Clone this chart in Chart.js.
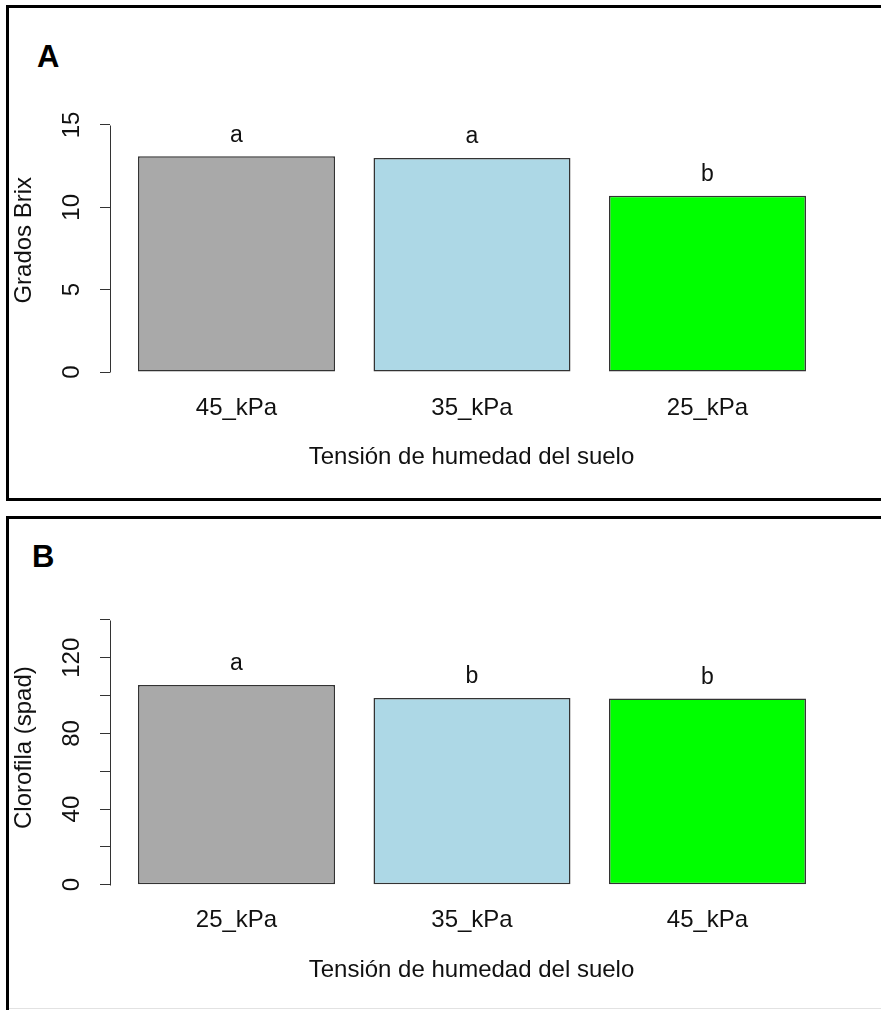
<!DOCTYPE html>
<html>
<head>
<meta charset="utf-8">
<script src="https://cdn.jsdelivr.net/npm/chart.js@4"></script>
<style>
html,body{margin:0;padding:0;background:#fff;overflow:hidden;width:881px;height:1010px;position:relative;}
.panel{position:absolute;border:3px solid #000;box-sizing:border-box;}
#pA{left:6px;top:5px;width:900px;height:496px;}
#pB{left:6px;top:516px;width:900px;height:540px;}
#edge{position:absolute;left:9px;top:1008px;width:872px;height:1px;background:#e2e2e2;}
.tag{position:absolute;font-family:'Liberation Sans',Arial,sans-serif;font-weight:bold;font-size:31px;line-height:31px;color:#000;}
canvas{position:absolute;left:0;}
</style>
</head>
<body>
<div class="panel" id="pA"></div>
<div class="panel" id="pB"></div>
<div id="edge"></div>
<div class="tag" style="left:37px;top:41px;">A</div>
<div class="tag" style="left:32px;top:541px;">B</div>
<canvas id="chartA" width="881" height="500" style="top:0px;width:881px;height:500px;"></canvas>
<canvas id="chartB" width="881" height="505" style="top:505px;width:881px;height:505px;"></canvas>
<script>
const FONT = "'Liberation Sans', Arial, sans-serif";

// ---- Data ----
const categoriesA = ['45_kPa', '35_kPa', '25_kPa'];
const brixValues = [13.1, 13.0, 10.7];
const brixLetters = ['a', 'a', 'b'];
const brixTickValues = [0, 5, 10, 15];
const brixTickLabels = [0, 5, 10, 15];

const categoriesB = ['25_kPa', '35_kPa', '45_kPa'];
const spadValues = [105.6, 98.7, 98.4];
const spadLetters = ['a', 'b', 'b'];
const spadTickValues = [0, 20, 40, 60, 80, 100, 120, 140];
const spadTickLabels = [0, 40, 80, 120];

const barColors = ['#A9A9A9', '#ADD8E6', '#00FF00'];
const xTitle = 'Tensión de humedad del suelo';

// R-style axis line: spans first to last tick only
const axisLinePlugin = {
  id: 'rAxisLine',
  afterDraw(chart) {
    const s = chart.scales.y;
    const ctx = chart.ctx;
    const vals = s.ticks.map(t => t.value);
    const y0 = Math.round(s.getPixelForValue(Math.min(...vals))) + 0.5;
    const y1 = Math.round(s.getPixelForValue(Math.max(...vals))) + 0.5;
    const x = Math.round(s.right) + 0.5;
    ctx.save();
    ctx.strokeStyle = '#333';
    ctx.lineWidth = 1;
    ctx.beginPath();
    ctx.moveTo(x, y0);
    ctx.lineTo(x, y1);
    ctx.stroke();
    ctx.restore();
  }
};

// significance letters above bars
const lettersPlugin = {
  id: 'sigLetters',
  afterDatasetsDraw(chart, args, opts) {
    const meta = chart.getDatasetMeta(0);
    const ctx = chart.ctx;
    ctx.save();
    ctx.font = '23px ' + FONT;
    ctx.fillStyle = '#111';
    ctx.textAlign = 'center';
    ctx.textBaseline = 'middle';
    meta.data.forEach((bar, i) => {
      ctx.fillText(opts.letters[i], bar.x, bar.y - opts.gap);
    });
    ctx.restore();
  }
};

function buildChart(id, cfg) {
  return new Chart(document.getElementById(id), {
    type: 'bar',
    data: {
      datasets: [{
        data: cfg.values.map((v, i) => ({ x: i + 1, y: v })),
        backgroundColor: barColors,
        borderColor: '#333',
        borderWidth: 1.5,
        borderSkipped: false,
        barPercentage: 0.8365,
        categoryPercentage: 1
      }]
    },
    options: {
      responsive: false,
      animation: false,
      devicePixelRatio: 1,
      layout: { padding: { left: 0, right: 48, top: cfg.padTop, bottom: cfg.padBottom } },
      plugins: {
        legend: { display: false },
        tooltip: { enabled: false },
        sigLetters: { letters: cfg.letters, gap: 21 }
      },
      scales: {
        x: {
          type: 'linear',
          offset: false,
          min: 0.4628,
          max: 3.533,
          afterBuildTicks: s => { s.ticks = cfg.categories.map((c, i) => ({ value: i + 1 })); },
          afterFit: s => { s.height = 100; },
          grid: { display: false, drawTicks: false },
          border: { display: false },
          ticks: {
            autoSkip: false, maxRotation: 0, minRotation: 0,
            padding: cfg.xTickPad,
            color: '#111',
            font: { family: FONT, size: 24 },
            callback: v => cfg.categories[Math.round(v) - 1]
          },
          title: {
            display: true, text: xTitle, color: '#111',
            font: { family: FONT, size: 24 },
            padding: { top: 0, bottom: 0 }
          }
        },
        y: {
          type: 'linear',
          min: 0,
          max: cfg.yMax,
          afterBuildTicks: s => { s.ticks = cfg.tickValues.map(v => ({ value: v })); },
          afterFit: s => { s.width = 110; },
          grid: { drawOnChartArea: false, drawTicks: true, tickLength: 10, color: '#333', lineWidth: 1 },
          border: { display: false },
          ticks: {
            autoSkip: false, minRotation: 90, maxRotation: 90,
            crossAlign: 'center',
            padding: cfg.yTickPad,
            color: '#111',
            font: { family: FONT, size: 24 },
            callback: v => cfg.tickLabels.includes(v) ? String(v) : ''
          },
          title: {
            display: true, text: cfg.yTitle, color: '#111',
            font: { family: FONT, size: 24 },
            padding: { top: 9.6, bottom: 0 }
          }
        }
      }
    },
    plugins: [axisLinePlugin, lettersPlugin]
  });
}

buildChart('chartA', {
  categories: categoriesA, values: brixValues, letters: brixLetters,
  tickValues: brixTickValues, tickLabels: brixTickLabels,
  yMax: 16, yTitle: 'Grados Brix',
  padTop: 108.5, padBottom: 28, xTickPad: 21.6, yTickPad: 14.2
});

buildChart('chartB', {
  categories: categoriesB, values: spadValues, letters: spadLetters,
  tickValues: spadTickValues, tickLabels: spadTickLabels,
  yMax: 145, yTitle: 'Clorofila (spad)',
  padTop: 105.5, padBottom: 25.3, xTickPad: 20.9, yTickPad: 7.5
});
</script>
</body>
</html>
